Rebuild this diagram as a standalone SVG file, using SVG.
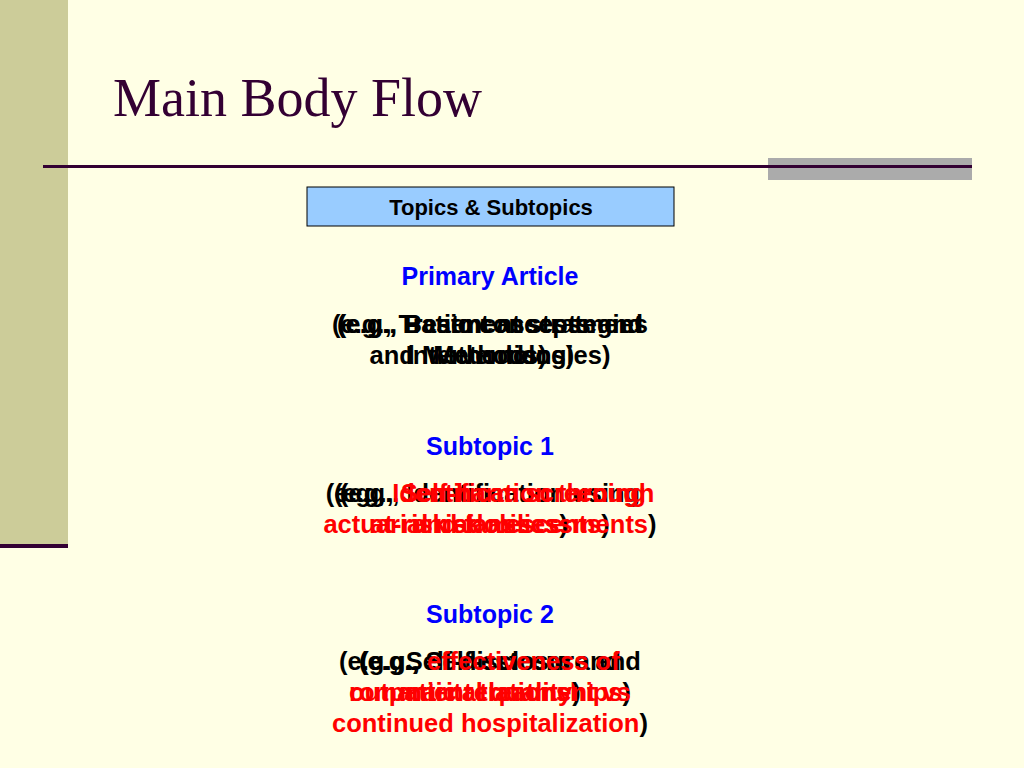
<svg xmlns="http://www.w3.org/2000/svg" width="1024" height="768" viewBox="0 0 1024 768">
<style>
.body{font-family:"Liberation Sans",Arial,sans-serif;font-weight:bold;font-size:25.5px;text-anchor:middle;fill:#000000}
.head{font-family:"Liberation Sans",Arial,sans-serif;font-weight:bold;font-size:25px;text-anchor:middle;fill:#0000FF}
.r{fill:#FF0000}
</style>
<rect x="0" y="0" width="1024" height="768" fill="#FFFFE5"/>
<g id="sidebar">
<rect x="0" y="0" width="68" height="546" fill="#CCCC99"/>
<rect x="0" y="544" width="68" height="4" fill="#330033"/>
</g>
<g id="title">
<text x="113" y="116" font-family="'Liberation Serif','Times New Roman',serif" font-size="54" fill="#330033">Main Body Flow</text>
</g>
<g id="rule">
<rect x="768" y="158" width="204" height="22" fill="#ABABAB"/>
<rect x="43" y="165" width="929" height="3" fill="#330033"/>
</g>
<g id="topics">
<rect x="307" y="187" width="367" height="39" fill="#99CCFF" stroke="#000000" stroke-width="1"/>
<text x="491" y="215" font-family="'Liberation Sans',Arial,sans-serif" font-weight="bold" font-size="22" text-anchor="middle" fill="#000000">Topics &amp; Subtopics</text>
</g>
<g id="primary">
<text class="head" x="490" y="285">Primary Article</text>
<text class="body" x="490" y="333">(e.g., Patient assessment</text>
<text class="body" x="490" y="364">Interventions)</text>
<text class="body" x="490" y="333">(e.g., Basic concepts and</text>
<text class="body" x="490" y="364">Methods)</text>
<text class="body" x="490" y="333">(e.g., Treatment strategies</text>
<text class="body" x="490" y="364">and Methodologies)</text>
</g>
<g id="subtopic1">
<text class="head" x="490" y="455">Subtopic 1</text>
<text class="body" x="490" y="502">(e.g., Identification using</text>
<text class="body" x="490" y="533"><tspan class="r">at-risk adolescents</tspan>)</text>
<text class="body" x="490" y="502">(e.g., <tspan class="r">Self-harm screening</tspan></text>
<text class="body" x="490" y="533"><tspan class="r">and families</tspan>)</text>
<text class="body" x="490" y="502">(e.g., <tspan class="r">Identification through</tspan></text>
<text class="body" x="490" y="533"><tspan class="r">actuarial risk assessments</tspan>)</text>
</g>
<g id="subtopic2">
<text class="head" x="490" y="623">Subtopic 2</text>
<text class="body" x="490" y="670">(e.g., Self-disclosure and</text>
<text class="body" x="490" y="701"><tspan class="r">romantic relationships</tspan>)</text>
<text class="body" x="490" y="670">(e.g., Self-esteem and</text>
<text class="body" x="490" y="701"><tspan class="r">marital quality</tspan>)</text>
<text class="body" x="490" y="670">(e.g., <tspan class="r">effectiveness of</tspan></text>
<text class="body" x="490" y="701"><tspan class="r">outpatient treatment vs</tspan></text>
<text class="body" x="490" y="732"><tspan class="r">continued hospitalization</tspan>)</text>
</g>
<g id="connectors"/>
</svg>
